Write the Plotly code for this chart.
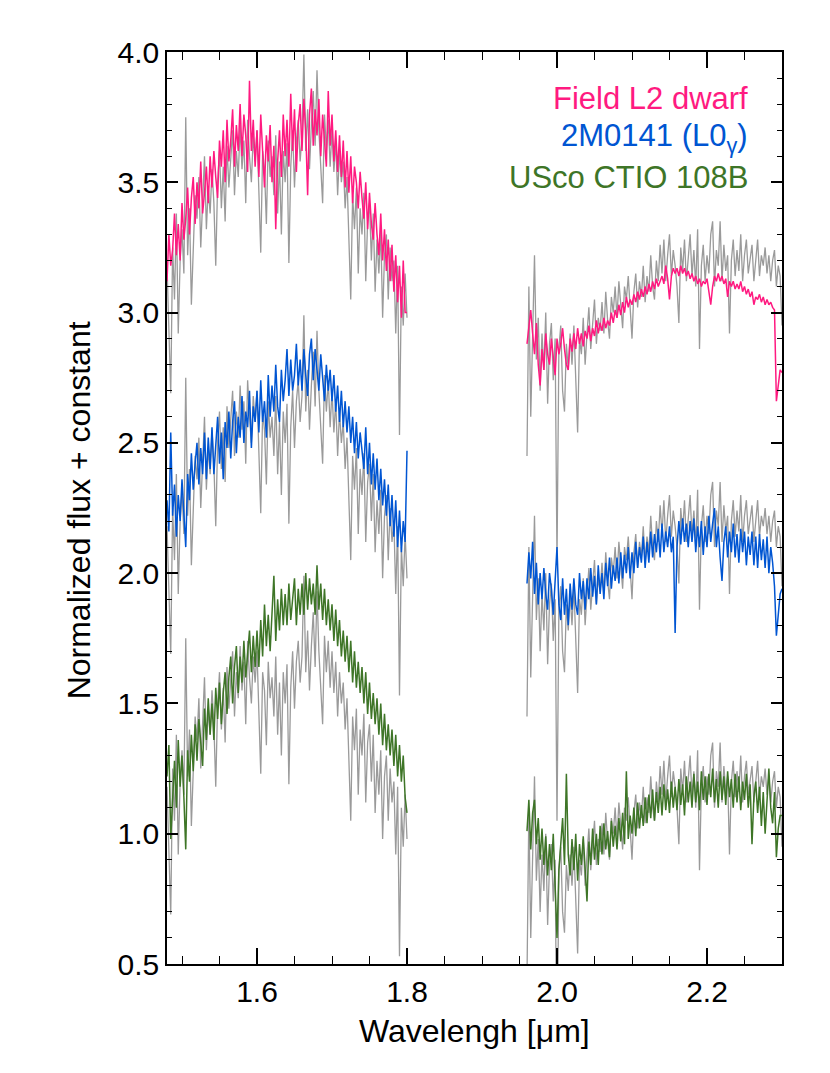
import numpy as np
import plotly.graph_objects as go

# spectral sampling (microns)
WAVE_STEP = 0.0025
H_START, H_END = 1.48, 1.80
K_START, K_END = 1.96, 2.30

# target spectrum (grey), normalized, shown three times with offsets
gray_h = [
    1.18, 0.95, 0.69, 1.25, 1.05, 1.38, 0.92, 1.20,
    1.32, 1.15, 1.75, 1.22, 1.40, 1.03, 1.28, 1.45,
    1.36, 1.52, 1.25, 1.44, 1.60, 1.32, 1.48, 1.38,
    1.55, 1.42, 1.18, 1.50, 1.62, 1.40, 1.56, 1.35,
    1.64, 1.48, 1.58, 1.70, 1.45, 1.62, 1.52, 1.72,
    1.55, 1.66, 1.42, 1.74, 1.60, 1.50, 1.68, 1.58,
    1.70, 1.48, 1.23, 1.62, 1.55, 1.34, 1.66, 1.52,
    1.60, 1.45, 1.68, 1.38, 1.58, 1.30, 1.62, 1.50,
    1.65, 1.19, 1.56, 1.70, 1.48, 1.66, 1.74, 1.58,
    1.68, 1.99, 1.62, 1.78, 1.55, 1.72, 1.85, 1.64,
    1.93, 1.70, 1.58, 1.42, 1.76, 1.62, 1.74, 1.56,
    1.70, 1.54, 1.66, 1.45, 1.62, 1.50, 1.58, 1.40,
    1.52, 1.28, 1.05, 1.45, 1.32, 1.48, 1.15, 1.40,
    1.30, 1.46, 1.12, 1.35, 1.42, 1.20, 1.38, 1.08,
    1.28, 1.15, 1.32, 0.98, 1.22, 1.30, 1.05, 1.25,
    1.12, 1.20, 0.92, 1.18, 0.53, 1.10, 0.95, 1.15,
    0.98,
]
gray_k = [
    0.45, 1.10, 0.60, 0.95, 1.22, 0.82, 0.98, 0.70,
    0.92, 0.78, 1.00, 0.65, 0.88, 0.96, 0.74, 0.90,
    0.05, 0.86, 0.95, 0.70, 0.62, 0.88, 0.78, 0.92,
    0.80, 0.95, 0.72, 0.54, 0.90, 0.84, 0.98, 0.80,
    0.92, 1.02, 0.86, 0.96, 1.05, 0.88, 0.98, 0.93,
    1.04, 0.92, 1.08, 0.97, 0.90, 1.06, 1.00, 1.10,
    0.98, 1.12, 1.02, 0.94, 1.10, 1.05, 1.14, 1.00,
    0.90, 1.08, 1.15, 1.02, 1.12, 1.06, 1.18, 1.04,
    1.14, 1.08, 1.22, 1.10, 1.05, 1.20, 1.12, 1.26,
    1.15, 1.28, 1.12, 1.22, 1.30, 1.14, 1.24, 1.18,
    1.10, 0.96, 1.25, 1.16, 1.28, 1.12, 1.20, 1.30,
    1.14, 1.24, 1.10, 1.32, 0.86, 1.18, 1.26, 1.12,
    1.22, 1.15, 1.30, 1.35, 1.10, 1.24, 1.18, 1.35,
    1.12, 1.26, 1.16, 1.22, 0.92, 1.20, 1.28, 1.14,
    1.24, 1.16, 1.30, 1.12, 1.22, 1.28, 1.15, 1.20,
    1.26, 1.12, 1.20, 1.28, 1.14, 1.22, 1.18, 1.25,
    1.15, 1.22, 1.12, 1.20, 1.24, 1.10, 1.18, 1.14,
    0.95,
]
gray_offsets = [2.0, 1.0, 0.0]

# Field L2 dwarf
field_h = [
    3.12, 3.30, 3.18, 3.24, 3.38, 3.22, 3.34, 3.20,
    3.42, 3.28, 3.36, 3.48, 3.30, 3.44, 3.52, 3.34,
    3.50, 3.40, 3.58, 3.38, 3.46, 3.56, 3.42, 3.60,
    3.48, 3.62, 3.52, 3.44, 3.66, 3.56, 3.70, 3.50,
    3.74, 3.58, 3.66, 3.78, 3.56, 3.72, 3.62, 3.80,
    3.60, 3.76, 3.68, 3.54, 3.89, 3.62, 3.74, 3.56,
    3.70, 3.52, 3.76, 3.60, 3.48, 3.68, 3.58, 3.72,
    3.50, 3.64, 3.32, 3.58, 3.70, 3.52, 3.76, 3.60,
    3.74, 3.56, 3.84, 3.62, 3.78, 3.54, 3.72, 3.80,
    3.62, 3.82, 3.70, 3.45, 3.76, 3.86, 3.64, 3.78,
    3.68, 3.82, 3.60, 3.76, 3.66, 3.56, 3.85, 3.64,
    3.76, 3.58, 3.70, 3.54, 3.68, 3.52, 3.66, 3.48,
    3.62, 3.46, 3.60, 3.42, 3.56, 3.50, 3.40, 3.54,
    3.44, 3.36, 3.50, 3.32, 3.46, 3.34, 3.28, 3.42,
    3.30, 3.22, 3.38, 3.20, 3.32, 3.16, 3.28, 3.12,
    3.26, 3.08, 3.22, 3.04, 3.18, 2.98, 3.20, 3.00,
    3.00,
]
field_k = [
    2.88, 2.95, 3.01, 2.92, 2.84, 2.96, 2.80, 2.72,
    2.86, 2.78, 2.92, 2.84, 2.80, 2.90, 2.82, 2.76,
    2.90, 2.84, 2.88, 2.94, 2.86, 2.80, 2.78, 2.90,
    2.85, 2.92, 2.86, 2.94, 2.88, 2.92, 2.87, 2.93,
    2.90, 2.95, 2.89, 2.94, 2.91, 2.97, 2.92, 2.96,
    2.93, 2.98, 2.94, 2.97, 2.95, 3.00, 2.96, 3.01,
    2.98, 3.03, 2.99, 3.04, 3.00, 3.06, 3.02, 3.05,
    3.03, 3.07, 3.04, 3.08, 3.05, 3.09, 3.06, 3.10,
    3.07, 3.11, 3.08, 3.12, 3.09, 3.13, 3.10, 3.12,
    3.14, 3.11, 3.18, 3.13, 3.05, 3.14, 3.17, 3.15,
    3.17, 3.14, 3.18, 3.15, 3.17, 3.14, 3.16, 3.13,
    3.15, 3.12, 3.14, 3.11, 3.13, 3.10, 3.12, 3.11,
    3.13, 3.08, 3.03, 3.10, 3.14, 3.12, 3.15, 3.12,
    3.14, 3.11, 3.13, 3.06, 3.12, 3.10, 3.12, 3.09,
    3.11, 3.09, 3.12, 3.08, 3.10, 3.07, 3.09, 3.06,
    3.08, 3.03, 3.06, 3.05, 3.07, 3.04, 3.06, 3.03,
    3.05, 3.03, 3.04, 3.02, 3.01, 2.66, 2.72, 2.78,
    2.77,
]

# 2M0141 (L0 gamma)
m0141_h = [
    2.28, 2.16, 2.54, 2.22, 2.34, 2.14, 2.30, 2.20,
    2.36, 2.24, 2.10, 2.38, 2.28, 2.46, 2.32, 2.42,
    2.50, 2.34, 2.48, 2.38, 2.54, 2.36, 2.52, 2.40,
    2.56, 2.38, 2.50, 2.60, 2.42, 2.54, 2.36, 2.58,
    2.48, 2.62, 2.44, 2.58, 2.66, 2.46, 2.60, 2.52,
    2.68, 2.50, 2.62, 2.56, 2.70, 2.48, 2.64, 2.58,
    2.70, 2.54, 2.74, 2.58, 2.66, 2.52, 2.76, 2.60,
    2.72, 2.62, 2.80, 2.64, 2.58, 2.78, 2.66, 2.74,
    2.86, 2.68, 2.82, 2.70, 2.76, 2.88, 2.72, 2.82,
    2.70, 2.86, 2.76, 2.68, 2.84, 2.90, 2.74, 2.86,
    2.78, 2.70, 2.84, 2.74, 2.66, 2.80, 2.70, 2.78,
    2.66, 2.76, 2.62, 2.72, 2.58, 2.70, 2.56, 2.66,
    2.54, 2.64, 2.50, 2.60, 2.46, 2.58, 2.44, 2.54,
    2.48, 2.40, 2.56, 2.38, 2.50, 2.34, 2.46, 2.32,
    2.44, 2.28, 2.40, 2.26, 2.36, 2.22, 2.34, 2.18,
    2.30, 2.14, 2.28, 2.10, 2.24, 2.08, 2.20, 2.12,
    2.47,
]
m0141_k = [
    1.96, 2.08, 1.98, 2.12, 1.92, 2.04, 1.88, 2.00,
    1.90, 2.02, 1.92, 1.86, 2.00, 1.94, 1.84, 1.98,
    2.10, 1.88, 1.82, 1.98, 1.84, 1.94, 1.80, 1.96,
    1.86, 1.98, 1.88, 1.84, 2.00, 1.90, 1.97, 1.86,
    1.98, 1.90, 2.02, 1.91, 1.99, 1.88, 2.03, 1.92,
    2.00, 1.90, 2.04, 1.95, 2.06, 1.94, 2.03, 1.97,
    2.06, 1.96, 2.08, 1.98, 2.07, 2.00, 2.10, 1.98,
    2.08, 2.00, 2.12, 2.02, 2.10, 2.04, 2.14, 2.02,
    2.12, 2.04, 2.16, 2.06, 2.15, 2.08, 2.17, 2.06,
    2.19, 2.08, 2.16, 2.10, 2.18, 2.08, 2.14, 1.77,
    2.10, 2.20, 2.11, 2.21, 2.12, 2.19, 2.10, 2.20,
    2.12, 2.21, 2.08, 2.18, 2.10, 2.20, 2.07, 2.18,
    2.10, 2.22, 2.12, 2.19, 2.25, 2.10, 2.18, 2.06,
    1.97, 2.12, 2.18, 2.06, 2.16, 2.08, 2.19, 2.06,
    2.15, 2.04, 2.17, 2.08, 2.16, 2.03, 2.14, 2.07,
    2.16, 2.03, 2.14, 2.02, 2.15, 2.05, 2.13, 2.02,
    2.14, 2.00, 2.10, 2.04, 1.95, 1.76, 1.84, 1.92,
    1.94,
]

# USco CTIO 108B
usco_h = [
    1.22, 1.34, 0.98, 1.16, 1.28, 1.10, 1.36, 1.18,
    1.30, 1.14, 0.94, 1.32, 1.20, 1.38, 1.24, 1.42,
    1.28, 1.44, 1.34, 1.26, 1.48, 1.36, 1.52, 1.38,
    1.50, 1.36, 1.56, 1.44, 1.58, 1.42, 1.54, 1.62,
    1.46, 1.60, 1.68, 1.50, 1.64, 1.72, 1.54, 1.68,
    1.58, 1.74, 1.60, 1.70, 1.78, 1.62, 1.76, 1.64,
    1.78, 1.64, 1.82, 1.68, 1.88, 1.72, 1.84, 1.70,
    1.86, 1.99, 1.74, 1.90, 1.78, 1.94, 1.80, 1.92,
    1.80, 1.96, 1.82, 1.90, 1.98, 1.80, 1.94, 1.84,
    1.96, 1.84, 2.00, 1.86, 1.98, 1.88, 1.96, 1.84,
    2.03, 1.86, 1.96, 1.82, 1.94, 1.80, 1.90, 1.78,
    1.88, 1.74, 1.86, 1.72, 1.82, 1.68, 1.78, 1.66,
    1.76, 1.62, 1.74, 1.58, 1.70, 1.56, 1.66, 1.54,
    1.64, 1.50, 1.62, 1.46, 1.58, 1.44, 1.54, 1.42,
    1.52, 1.38, 1.50, 1.34, 1.46, 1.32, 1.42, 1.30,
    1.40, 1.26, 1.38, 1.22, 1.34, 1.20, 1.30, 1.14,
    1.08,
]
usco_k = [
    1.01, 1.13, 0.94, 1.08, 1.13, 0.96, 1.06, 0.90,
    1.02, 0.88, 0.99, 0.84, 0.96, 0.86, 1.00, 0.82,
    0.60, 0.86, 0.98, 1.06, 0.88, 1.23, 0.92, 0.84,
    0.98, 0.86, 1.00, 0.82, 0.96, 0.88, 0.99, 0.85,
    0.74, 0.97, 0.88, 1.02, 0.90, 1.00, 0.88, 1.03,
    0.92, 1.04, 0.94, 1.01, 0.91, 1.05, 0.95, 1.03,
    0.94, 1.06, 0.97, 1.08, 0.96, 1.24, 0.98, 1.07,
    1.00, 1.10, 0.99, 1.12, 1.02, 1.11, 1.03, 1.14,
    1.04, 1.15, 1.06, 1.17, 1.05, 1.16, 1.08, 1.18,
    1.07, 1.19, 1.09, 1.17, 1.08, 1.20, 1.10, 1.18,
    1.09, 1.21, 1.11, 1.19, 1.07, 1.22, 1.12, 1.20,
    1.10, 1.23, 1.12, 1.20, 1.09, 1.24, 1.13, 1.22,
    1.11, 1.23, 1.14, 1.25, 1.12, 1.21, 1.10, 1.24,
    1.13, 1.22, 1.11, 1.24, 1.14, 1.21, 1.10, 1.23,
    1.12, 1.22, 1.09, 1.20, 1.13, 1.23, 1.10, 1.19,
    0.96, 1.14, 1.20, 1.08, 1.18, 1.03, 1.16, 1.00,
    1.12, 1.25, 1.10, 1.04, 1.16, 0.91, 1.02, 1.07,
    1.07,
]

labels = ["Field L2 dwarf", "2M0141 (L0<sub>γ</sub>)", "USco CTIO 108B"]
colors = ["#FF1A80", "#0055D2", "#3E7527"]
GRAY = "#9A9A9A"
FONT = "Liberation Sans, Arial, Helvetica, sans-serif"

wave_h = np.round(np.arange(H_START, H_END + WAVE_STEP / 2, WAVE_STEP), 4)
wave_k = np.round(np.arange(K_START, K_END + WAVE_STEP / 2, WAVE_STEP), 4)


def stitch(h, k, off=0.0):
    # H and K segments joined with a gap
    x = list(wave_h) + [None] + list(wave_k)
    y = [v + off for v in h] + [None] + [v + off for v in k]
    return x, y


fig = go.Figure()

for off in gray_offsets:
    x, y = stitch(gray_h, gray_k, off)
    fig.add_trace(go.Scatter(x=x, y=y, mode="lines", line=dict(color=GRAY, width=1.3),
                             connectgaps=False, showlegend=False))

for (h, k), c, name in zip([(field_h, field_k), (m0141_h, m0141_k), (usco_h, usco_k)],
                           colors, labels):
    x, y = stitch(h, k)
    fig.add_trace(go.Scatter(x=x, y=y, mode="lines", line=dict(color=c, width=1.5),
                             connectgaps=False, showlegend=False, name=name))

# legend as coloured text, right aligned
for i, (name, c) in enumerate(zip(labels, colors)):
    fig.add_annotation(x=2.257, y=3.823 - 0.152 * i, xref="x", yref="y",
                       text=name, showarrow=False, xanchor="right", yanchor="middle",
                       font=dict(family=FONT, size=31, color=c))

fig.add_annotation(x=-0.1437, y=0.497, xref="paper", yref="paper", textangle=-90,
                   text="Normalized flux + constant", showarrow=False,
                   xanchor="center", yanchor="middle",
                   font=dict(family=FONT, size=32, color="black"))
fig.add_annotation(x=0.5, y=-0.073, xref="paper", yref="paper",
                   text="Wavelengh [μm]", showarrow=False,
                   xanchor="center", yanchor="middle",
                   font=dict(family=FONT, size=32, color="black"))

axis_common = dict(
    showline=True, linecolor="black", linewidth=1.5, mirror="allticks",
    ticks="inside", tickcolor="black", tickwidth=1.5,
    showgrid=False, zeroline=False, tickformat=".1f",
    tickfont=dict(family=FONT, size=30, color="black"),
)
fig.update_xaxes(range=[1.48, 2.30], dtick=0.2, tick0=0, ticklen=16,
                 minor=dict(ticks="inside", dtick=0.05, ticklen=8, tickcolor="black", tickwidth=1.2),
                 **axis_common)
fig.update_yaxes(range=[0.5, 4.0], dtick=0.5, tick0=0, ticklen=11,
                 minor=dict(ticks="inside", dtick=0.1, ticklen=5, tickcolor="black", tickwidth=1.2),
                 **axis_common)

# page body adds an 8px offset, so the figure is a bit smaller than the window
fig.update_layout(
    width=822, height=1065,
    margin=dict(l=159, r=48, t=44, b=109),
    paper_bgcolor="white", plot_bgcolor="white",
    font=dict(family=FONT),
    showlegend=False,
)

fig.write_html("out.html")
